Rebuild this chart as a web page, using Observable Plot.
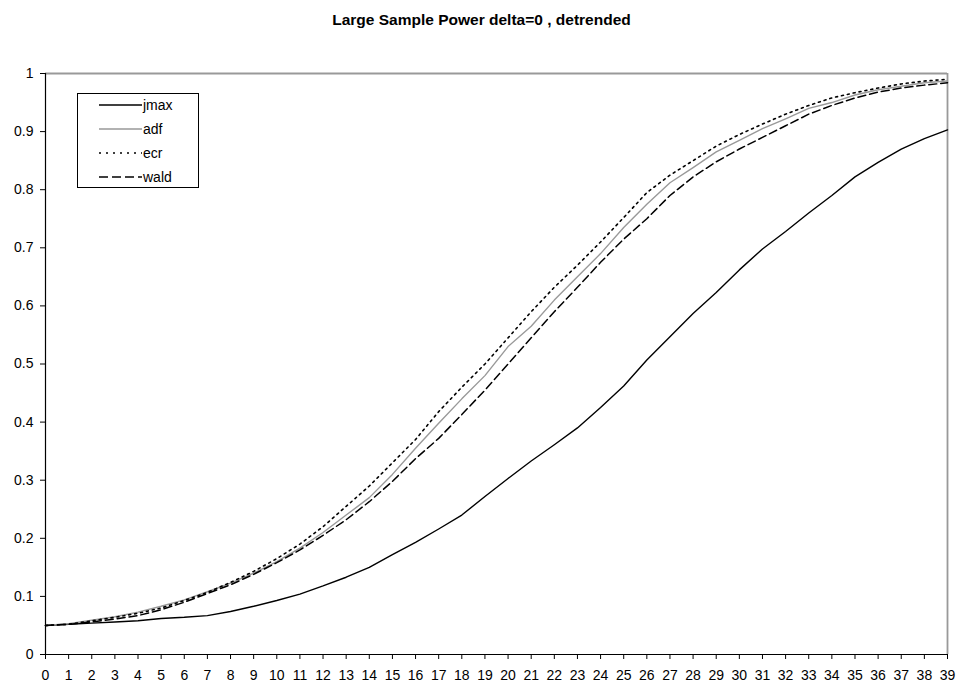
<!DOCTYPE html>
<html><head><meta charset="utf-8">
<script src="https://cdn.jsdelivr.net/npm/d3@7"></script>
<script src="https://cdn.jsdelivr.net/npm/@observablehq/plot@0.6"></script>
<style>
body{margin:0;background:#fff;font-family:"Liberation Sans",Arial,sans-serif;}
#wrap{position:relative;width:963px;height:690px;overflow:hidden;}
#title{height:50px;line-height:40px;text-align:center;font-weight:bold;font-size:15.5px;color:#000;}
#legend{position:absolute;left:77px;top:93px;width:122px;height:95px;border:1px solid #000;background:#fff;box-sizing:border-box;}
#legend svg{display:block;}
</style>
</head><body>
<div id="wrap">
<div id="title">Large Sample Power delta=0 , detrended</div>
<div id="chart"></div>
<div id="legend"></div>
</div>
<script>
const xs = d3.range(0, 40);
const jmax = [0.05,0.052,0.054,0.056,0.058,0.062,0.064,0.067,0.074,0.083,0.093,0.104,0.118,0.133,0.15,0.172,0.193,0.216,0.24,0.272,0.303,0.333,0.361,0.39,0.425,0.462,0.507,0.547,0.587,0.623,0.662,0.698,0.728,0.76,0.79,0.822,0.847,0.87,0.888,0.903];
const adf = [0.05,0.053,0.059,0.065,0.073,0.083,0.094,0.108,0.123,0.14,0.16,0.183,0.21,0.24,0.27,0.31,0.355,0.398,0.44,0.48,0.53,0.565,0.61,0.65,0.69,0.735,0.775,0.812,0.838,0.865,0.885,0.905,0.922,0.94,0.95,0.963,0.972,0.978,0.984,0.987];
const ecr = [0.05,0.052,0.058,0.064,0.071,0.08,0.093,0.107,0.124,0.143,0.165,0.19,0.22,0.255,0.29,0.33,0.37,0.418,0.46,0.5,0.545,0.59,0.632,0.67,0.71,0.752,0.795,0.825,0.85,0.875,0.895,0.913,0.93,0.945,0.958,0.967,0.975,0.982,0.987,0.99];
const wald = [0.05,0.052,0.056,0.061,0.067,0.077,0.09,0.105,0.12,0.138,0.158,0.18,0.205,0.232,0.263,0.298,0.337,0.372,0.413,0.455,0.5,0.545,0.59,0.632,0.675,0.715,0.75,0.79,0.822,0.848,0.87,0.89,0.91,0.93,0.945,0.958,0.968,0.975,0.98,0.984];
const seriesNames = ["jmax","adf","ecr","wald"];
const xTicks = d3.range(0, 40);
const yTicks = [0,0.1,0.2,0.3,0.4,0.5,0.6,0.7,0.8,0.9,1];
const yTickLabels = ["0","0.1","0.2","0.3","0.4","0.5","0.6","0.7","0.8","0.9","1"];

const seriesValues = {jmax, adf, ecr, wald};
const styles = {
  jmax: {stroke:"#000", strokeWidth:1.4, dash:null},
  adf:  {stroke:"#999", strokeWidth:1.4, dash:null},
  ecr:  {stroke:"#000", strokeWidth:1.6, dash:"2,4"},
  wald: {stroke:"#000", strokeWidth:1.5, dash:"8,4"}
};
const rows = name => xs.map((x,i)=>({x, v: seriesValues[name][i], series:name}));

const lineMarks = seriesNames.map(name => Plot.line(rows(name), {
  x:"x", y:"v", stroke: styles[name].stroke, strokeWidth: styles[name].strokeWidth,
  strokeDasharray: styles[name].dash ?? undefined
}));

const chart = Plot.plot({
  width: 963, height: 640,
  marginLeft: 45, marginRight: 16, marginTop: 23, marginBottom: 36,
  style: {fontFamily:"'Liberation Sans', Arial, sans-serif", fontSize:"14px", color:"#000", background:"#fff", overflow:"visible"},
  x: {domain:[0,39]},
  y: {domain:[0,1]},
  marks: [
    Plot.axisX({ticks: xTicks, tickFormat: d=>String(d), tickSize:5, tickPadding:11, label:null, fontSize:14, stroke:"#000"}),
    Plot.axisY({ticks: yTicks, tickFormat: d=>yTickLabels[yTicks.indexOf(d)], tickSize:5, tickPadding:7, label:null, fontSize:14, stroke:"#000"}),
    Plot.ruleY([1], {stroke:"#999", strokeWidth:1.8}),
    Plot.ruleX([39], {stroke:"#999", strokeWidth:1.8}),
    ...lineMarks,
    Plot.ruleY([0], {stroke:"#000", strokeWidth:1.2}),
    Plot.ruleX([0], {stroke:"#000", strokeWidth:1.2})
  ]
});
document.getElementById("chart").appendChild(chart);

// legend
const lg = d3.select("#legend").append("svg").attr("width",120).attr("height",93);
seriesNames.forEach((name,i)=>{
  const y = 11 + i*24;
  const s = styles[name];
  lg.append("line").attr("x1",21).attr("x2",64).attr("y1",y).attr("y2",y)
    .attr("stroke",s.stroke).attr("stroke-width",s.strokeWidth)
    .attr("stroke-dasharray", s.dash ? (name==="ecr" ? "2,5" : "9,4") : null);
  lg.append("text").attr("x",65).attr("y",y+5).text(name)
    .attr("font-size",14).attr("font-family","'Liberation Sans', Arial, sans-serif");
});
</script>
</body></html>
